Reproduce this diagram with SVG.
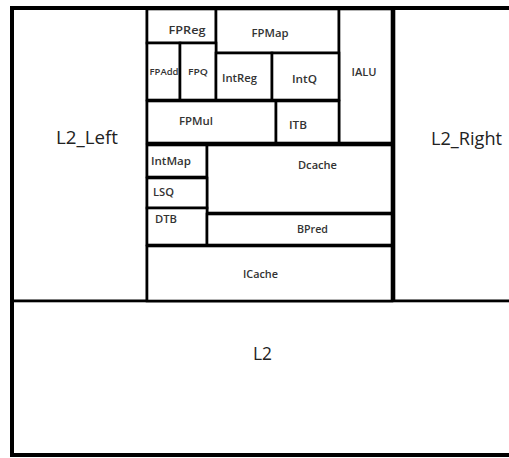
<svg xmlns="http://www.w3.org/2000/svg" width="509" height="458" viewBox="0 0 509 458">
<style>
rect{fill:#fff;stroke:#000;stroke-width:2.6}
.o{fill:none;stroke-width:4}
text{font-family:"Open Sans","Noto Sans",sans-serif;font-weight:600;fill:#333;text-anchor:middle}
.s{font-size:10px}
.xs{font-size:8px}
.l{font-size:19px;font-weight:400;fill:#222}
.st{text-anchor:start}
</style>
<g id="L2_Left"><rect x="12" y="8" width="135" height="293"/><text class="l" x="87" y="144" textLength="62" lengthAdjust="spacingAndGlyphs">L2_Left</text></g>
<g id="L2_Right"><rect x="394" y="8" width="118" height="293"/><text class="l" x="466.5" y="145" textLength="71" lengthAdjust="spacingAndGlyphs">L2_Right</text></g>
<g id="L2"><rect x="12" y="301" width="500" height="154"/><text class="l" x="262.5" y="360" textLength="19" lengthAdjust="spacingAndGlyphs">L2</text></g>
<g id="FPReg"><rect x="147" y="9" width="69" height="34"/><text class="s" x="187" y="34" textLength="37" lengthAdjust="spacingAndGlyphs">FPReg</text></g>
<g id="FPMap"><rect x="216" y="9" width="123" height="44"/><text class="s" x="270" y="37" textLength="37" lengthAdjust="spacingAndGlyphs">FPMap</text></g>
<g id="IALU"><rect x="339" y="9" width="53" height="134"/><text class="s" x="364" y="76" textLength="25" lengthAdjust="spacingAndGlyphs">IALU</text></g>
<g id="FPAdd"><rect x="147" y="43" width="33" height="57"/><text class="xs" x="164" y="75" textLength="29" lengthAdjust="spacingAndGlyphs">FPAdd</text></g>
<g id="FPQ"><rect x="180" y="43" width="36" height="57"/><text class="xs" x="198" y="75" textLength="20" lengthAdjust="spacingAndGlyphs">FPQ</text></g>
<g id="IntReg"><rect x="216" y="53" width="56" height="47"/><text class="s" x="239.5" y="82" textLength="35" lengthAdjust="spacingAndGlyphs">IntReg</text></g>
<g id="IntQ"><rect x="272" y="53" width="67" height="47"/><text class="s" x="304.5" y="83" textLength="25" lengthAdjust="spacingAndGlyphs">IntQ</text></g>
<g id="FPMul"><rect x="147" y="101" width="129" height="42"/><text class="s" x="196" y="125" textLength="34" lengthAdjust="spacingAndGlyphs">FPMul</text></g>
<g id="ITB"><rect x="276" y="101" width="63" height="42"/><text class="s" x="298" y="129" textLength="18" lengthAdjust="spacingAndGlyphs">ITB</text></g>
<g id="IntMap"><rect x="147" y="145" width="60" height="32"/><text class="s st" x="151" y="165" textLength="40" lengthAdjust="spacingAndGlyphs">IntMap</text></g>
<g id="Dcache"><rect x="207" y="145" width="185" height="68"/><text class="s" x="317.5" y="169" textLength="39" lengthAdjust="spacingAndGlyphs">Dcache</text></g>
<g id="LSQ"><rect x="147" y="178" width="60" height="30"/><text class="s st" x="153" y="196" textLength="21" lengthAdjust="spacingAndGlyphs">LSQ</text></g>
<g id="DTB"><rect x="147" y="208" width="60" height="37"/><text class="s st" x="155" y="223" textLength="22" lengthAdjust="spacingAndGlyphs">DTB</text></g>
<g id="BPred"><rect x="207" y="214" width="185" height="31"/><text class="s" x="312.5" y="233" textLength="31" lengthAdjust="spacingAndGlyphs">BPred</text></g>
<g id="ICache"><rect x="147" y="246" width="245" height="55"/><text class="s" x="260.5" y="278" textLength="35" lengthAdjust="spacingAndGlyphs">ICache</text></g>
<g id="frame"><rect class="o" x="12" y="8" width="500" height="447"/></g>
<g id="connectors"></g>
</svg>
